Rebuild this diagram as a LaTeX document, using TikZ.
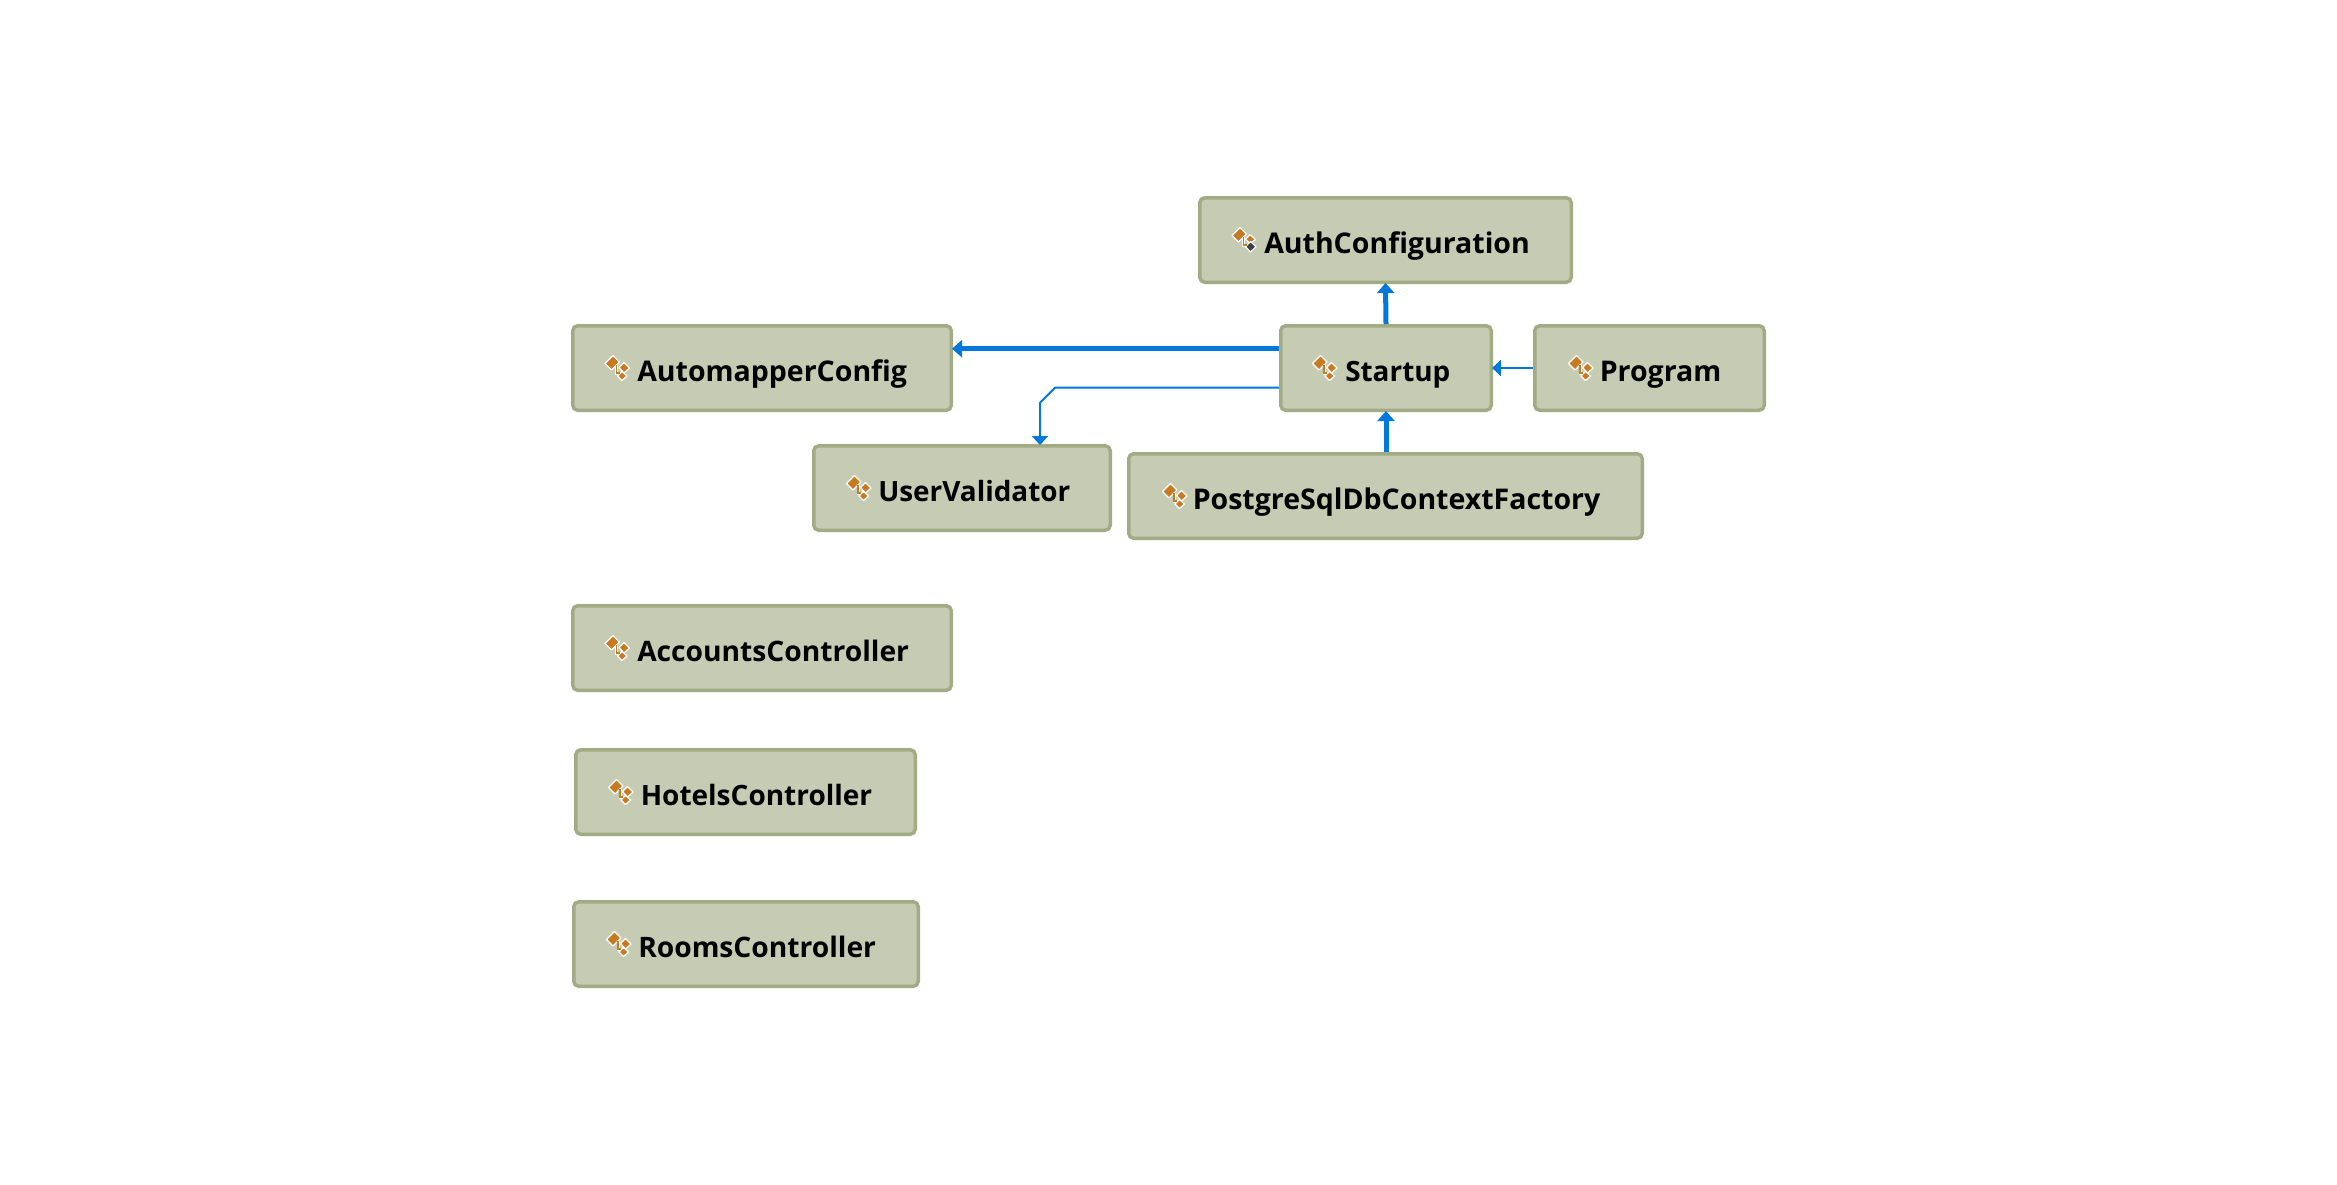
\documentclass[tikz,border=0pt]{standalone}
\usepackage{fontspec}
\setmainfont{Open Sans}
\usetikzlibrary{arrows.meta}
\definecolor{boxfill}{HTML}{C6CBB4}
\definecolor{boxline}{HTML}{A3AB84}
\definecolor{linkblue}{HTML}{0078DC}
\definecolor{iconorange}{HTML}{C87A22}
\newcommand{\lblsize}[1]{\fontsize{#1}{#1}\selectfont}
\tikzset{
  classbox/.style={draw=boxline,fill=boxfill,line width=3.5pt,rounded corners=5pt,inner xsep=0pt,inner ysep=0pt,
    minimum height=84.5pt,text height=27.4pt,text depth=0pt,align=left,
    font=\fontsize{28.5}{28.5}\selectfont\bfseries,text=black},
  thicklink/.style={draw=linkblue,line width=5pt,shorten >=-1pt,-{Triangle[length=10pt,width=17pt]}},
  thinlink/.style={draw=linkblue,line width=2pt,shorten >=-1pt,-{Triangle[length=9pt,width=16pt]}},
  iconpart/.style={fill=iconorange,draw=white,line width=1.2pt,line join=round},
  iconwire/.style={draw=iconorange,line width=1.3pt},
  pics/classicon/.style={code={
    \path[draw=white,line width=3pt] (-1,-3) -- (-1,5) -- (3,5);
    \path[iconpart] (-12.5,-4.5) -- (-4.5,-12.5) -- (2,-6) -- (-6,2) -- cycle;
    \path[iconpart] (6.5,-5.5) -- (12,0) -- (6.5,5) -- (1.5,-0.5) -- cycle;
    \path[iconpart] (4.5,3.5) -- (9.5,8) -- (4.5,12.5) -- (0,8) -- cycle;
    \path[iconwire] (-1,-3) -- (-1,5) -- (2,5);
  }},
  pics/staticicon/.style={code={
    \path[draw=white,line width=3pt] (-1,-3) -- (-1,5) -- (3,5);
    \path[iconpart] (-12.5,-4.5) -- (-4.5,-12.5) -- (2,-6) -- (-6,2) -- cycle;
    \path[iconpart] (5.5,-5.5) -- (11,-0.5) -- (5.5,3.5) -- (1,-0.5) -- cycle;
    \path[fill=black!75,draw=white,line width=1.2pt,line join=round] (6,1.5) -- (11.5,6.7) -- (6,12) -- (1,6.7) -- cycle;
    \path[iconwire] (-1,-3) -- (-1,5) -- (2,5);
  }}
}
\begin{document}
\begin{tikzpicture}[x=1pt,y=-1pt]
\useasboundingbox (0,0) rectangle (2337,1184);
\node[classbox,minimum width=371.5pt,text width=371.5pt] (auth) at (1385.5,240) {\hspace*{64.5pt}AuthConfiguration};
\node[classbox,minimum width=210.5pt,text width=210.5pt] (startup) at (1386,368) {\hspace*{64.5pt}\lblsize{27.9}Startup};
\node[classbox,minimum width=229.5pt,text width=229.5pt] (program) at (1649.5,368) {\hspace*{65pt}Program};
\node[classbox,minimum width=378.5pt,text width=378.5pt] (automapper) at (762,368) {\hspace*{64.5pt}AutomapperConfig};
\node[classbox,minimum width=296.5pt,text width=296.5pt] (validator) at (962,488) {\hspace*{64.5pt}\lblsize{27.9}UserValidator};
\node[classbox,minimum width=513.5pt,text width=513.5pt] (postgres) at (1385.5,496) {\hspace*{64pt}PostgreSqlDbContextFactory};
\node[classbox,minimum width=378.5pt,text width=378.5pt] (accounts) at (762,648) {\hspace*{64.5pt}\lblsize{28.2}AccountsController};
\node[classbox,minimum width=339.5pt,text width=339.5pt] (hotels) at (745.5,792) {\hspace*{65pt}\lblsize{28}HotelsController};
\node[classbox,minimum width=344.5pt,text width=344.5pt] (rooms) at (746,944) {\hspace*{64.5pt}\lblsize{28.2}RoomsController};

\pic at (1244.5,240) {staticicon};
\pic at (1325,368) {classicon};
\pic at (1581,368) {classicon};
\pic at (617.5,368) {classicon};
\pic at (859,488) {classicon};
\pic at (1175,496) {classicon};
\pic at (617.5,648) {classicon};
\pic at (621,792) {classicon};
\pic at (619,944) {classicon};

\coordinate (bendA) at (1055,387.7);
\coordinate (bendB) at (1040,402.7);
\draw[thicklink] (startup.north) -- (auth.south);
\draw[thicklink] (postgres.north -| startup.south) -- (startup.south);
\draw[thicklink] ([yshift=19.3pt]startup.west) -- ([yshift=19.3pt]automapper.east);
\draw[thinlink] (program.west) -- (startup.east);
\draw[thinlink] ([yshift=-19.7pt]startup.west) -- (bendA) -- (bendB) -- (bendB |- validator.north);
\end{tikzpicture}
\end{document}
